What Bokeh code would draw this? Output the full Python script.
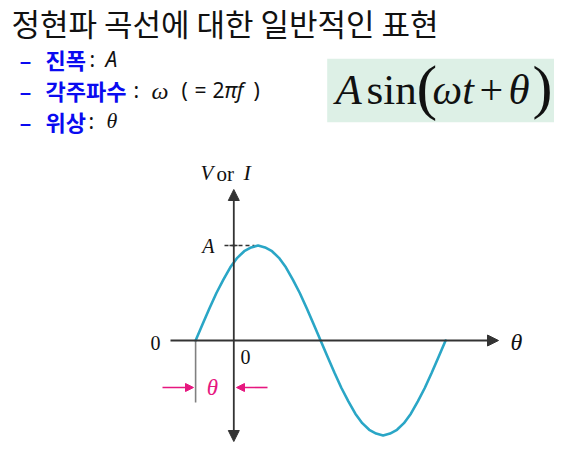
from bokeh.plotting import figure
from bokeh.models import Range1d, Label, Arrow, NormalHead, BoxAnnotation, ColumnDataSource
from bokeh.embed import file_html
from bokeh.resources import INLINE

# ---- data ----
# waveform: theta (degrees) vs value (in units of A)
theta_deg = [-55, -45, -35, -25, -15, -5, 5, 15, 25, 35, 45, 55, 65, 75, 85, 95, 105, 115,
             125, 135, 145, 155, 165, 175, 185, 195, 205, 215, 225, 235, 245, 255, 265, 275,
             285, 295, 305]
value = [0.00, 0.17, 0.34, 0.50, 0.64, 0.77, 0.87, 0.94, 0.98, 1.00, 0.98, 0.94, 0.87, 0.77,
         0.64, 0.50, 0.34, 0.17, 0.00, -0.17, -0.34, -0.50, -0.64, -0.77, -0.87, -0.94, -0.98,
         -1.00, -0.98, -0.94, -0.87, -0.77, -0.64, -0.50, -0.34, -0.17, 0.00]
phase_deg = -55      # start of the wave (theta marker)
amplitude = 1.0

title_text = "정현파 곡선에 대한 일반적인 표현"
bullet_terms = ["진폭", "각주파수", "위상"]

# ---- layout helpers (picture pixel -> data) ----
PX_PER_DEG = 250 / 360
X0, Y0, PX_PER_UNIT = 233.3, 340.0, 95.0
W, H = 554, 442

def dx(px):
    return (px - X0) / PX_PER_DEG

def dy(py):
    return (Y0 - py) / PX_PER_UNIT

p = figure(width=W, height=H, output_backend="svg", toolbar_location=None,
           x_range=Range1d(dx(0), dx(W)), y_range=Range1d(dy(H), dy(0)),
           min_border=0, outline_line_color=None)
p.axis.visible = False
p.grid.visible = False
p.background_fill_color = "white"

AXIS = "#333333"
CURVE = "#2aa6c6"
MAG = "#e6177f"
BLUE = "#0a0af0"
SERIF = "Liberation Serif"
SANS = "Noto Sans"
KR = "Noto Sans CJK KR"

def lab(px, py, text, font, size, color="#111111", style="normal", align="left", base="middle"):
    p.add_layout(Label(x=dx(px), y=dy(py), text=text, text_font=font, text_font_size=size,
                       text_color=color, text_font_style=style, text_align=align,
                       text_baseline=base))

# ---- title and bullet list ----
lab(11, 22, title_text, KR, "31px")
rows = [58, 89, 120]
for term, ry in zip(bullet_terms, rows):
    lab(19, ry, "–", KR, "22px", BLUE, "bold")
    lab(45, ry, term, KR, "22px", BLUE, "bold")
lab(89, 58, ":", SANS, "21px")
lab(133, 89, ":", SANS, "21px")
lab(88, 120, ":", SANS, "21px")
lab(105, 58, "A", SANS, "21px", style="italic")
lab(151, 90, "ω", SERIF, "24px", style="italic")
lab(181, 89, "(", SANS, "21px")
lab(194, 89, "=", SANS, "21px")
lab(212, 89, "2", SANS, "21px")
lab(224, 89, "πf", SANS, "21px", style="italic")
lab(253, 89, ")", SANS, "21px")
lab(106, 120, "θ", SERIF, "22px", style="italic")

# ---- formula box ----
p.add_layout(BoxAnnotation(left=dx(326.7), right=dx(561.7), top=dy(58.3), bottom=dy(121.7),
                           fill_color="#ddf0e6", fill_alpha=1.0, line_color=None))
lab(335, 89, "A", SERIF, "43px", style="italic")
lab(366, 89, "sin", SERIF, "43px")
lab(416, 86, "(", SERIF, "62px")
lab(432, 89, "ωt", SERIF, "42px", style="italic")
lab(479, 89, "+", SERIF, "42px")
lab(508, 89, "θ", SERIF, "43px", style="italic")
lab(532, 86, ")", SERIF, "60px")

# ---- axes ----
p.add_layout(Arrow(x_start=dx(170), y_start=0, x_end=dx(498), y_end=0,
                   line_color=AXIS, line_width=1.8,
                   end=NormalHead(size=11, fill_color=AXIS, line_color=AXIS)))
p.add_layout(Arrow(x_start=0, y_start=dy(441), x_end=0, y_end=dy(189),
                   line_color=AXIS, line_width=1.8,
                   start=NormalHead(size=11, fill_color=AXIS, line_color=AXIS),
                   end=NormalHead(size=11, fill_color=AXIS, line_color=AXIS)))

# amplitude marker
p.line([dx(224), dx(254)], [amplitude, amplitude], line_color=AXIS, line_width=1.3, line_dash="4 3")
p.line([dx(229), dx(237)], [amplitude, amplitude], line_color=AXIS, line_width=1.3)

# waveform
src = ColumnDataSource(dict(x=theta_deg, y=value))
p.line("x", "y", source=src, line_color=CURVE, line_width=2.6, line_join="round", line_cap="round")

# phase marker
p.line([phase_deg, phase_deg], [0, dy(402)], line_color="#808080", line_width=1.6)
p.add_layout(Arrow(x_start=dx(162), y_start=dy(387), x_end=dx(193), y_end=dy(387),
                   line_color=MAG, line_width=1.6,
                   end=NormalHead(size=8, fill_color=MAG, line_color=MAG)))
p.add_layout(Arrow(x_start=dx(267), y_start=dy(387), x_end=dx(236), y_end=dy(387),
                   line_color=MAG, line_width=1.6,
                   end=NormalHead(size=8, fill_color=MAG, line_color=MAG)))
lab(212, 387, "θ", SERIF, "23px", MAG, "italic", "center")

# axis labels
lab(200, 172, "V", SERIF, "21px", style="italic")
lab(216, 173, "or", SERIF, "21px")
lab(243, 172, "I", SERIF, "22px", style="italic")
lab(214, 245, "A", SERIF, "20px", style="italic", align="right")
lab(155, 342, "0", SERIF, "20px", align="center")
lab(245, 356, "0", SERIF, "20px", align="center")
lab(516, 341, "θ", SERIF, "24px", style="italic", align="center")

open("out.html", "w").write(file_html(p, INLINE))
